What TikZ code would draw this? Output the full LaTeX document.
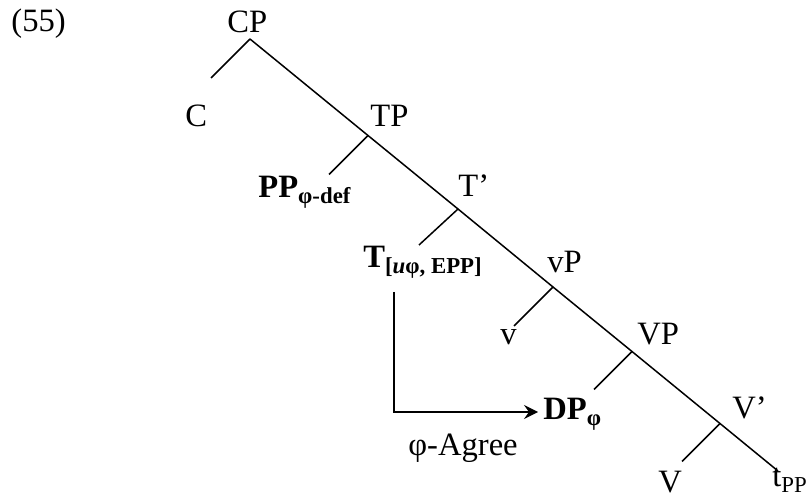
\documentclass[tikz,border=0pt]{standalone}
\usepackage{fontspec}
\setmainfont{Liberation Serif}
\usetikzlibrary{arrows.meta, calc}

\begin{document}
\begin{tikzpicture}[x=0.5pt, y=-0.5pt, >={Stealth[length=7pt, width=7pt, inset=2.5pt]}]
  % Styles
  \tikzstyle{label} = [anchor=base west, inner sep=0pt, font=\fontsize{16.3}{19}\selectfont]
  \tikzstyle{branch} = [draw, line width=0.75pt]
  \tikzstyle{agree} = [draw, ->, line width=0.75pt]

  \useasboundingbox (0,0) rectangle (809,497);

  % Example number
  \node[label] (num) at (11,32) {(55)};

  % Branch points on the spine
  \coordinate (cp) at (250,39);
  \coordinate (tp) at (368,135.5);
  \coordinate (tbar) at (458,209);
  \coordinate (vp) at (553,287);
  \coordinate (bigvp) at (632,351.5);
  \coordinate (vbar) at (720,423.5);
  \coordinate (spineend) at (778,471);

  % Ends of the left branches
  \coordinate (cend) at ($(cp)+(-39,39)$);
  \coordinate (ppend) at ($(tp)+(-39,39)$);
  \coordinate (tend) at ($(tbar)+(-39,36)$);
  \coordinate (vend) at ($(vp)+(-39,39)$);
  \coordinate (dpend) at ($(bigvp)+(-38,38)$);
  \coordinate (vheadend) at ($(vbar)+(-38,38)$);

  % Labels
  \node[label] (CP) at (227,33) {CP};
  \node[label] (C) at (185,127) {C};
  \node[label] (TP) at (370,127) {TP};
  \node[label] (PP) at (258,198) {\textbf{PP\textsubscript{φ-def}}};
  \node[label] (Tbar) at (458,197) {T’};
  \node[label] (T) at (363,268) {\textbf{T\textsubscript{[\textit{u}φ, EPP]}}};
  \node[label] (vP) at (547,273) {vP};
  \node[label] (v) at (500,345) {v};
  \node[label] (VP) at (637,345) {VP};
  \node[label] (DP) at (543,420) {\textbf{DP\textsubscript{φ}}};
  \node[label] (Vbar) at (732,418) {V’};
  \node[label] (V) at (658,492) {V};
  \node[label] (tPP) at (772,487) {t\textsubscript{PP}};
  \node[label] (agreelabel) at (408,455) {φ-Agree};

  % Tree
  \draw[branch] (cp) -- (tp) -- (tbar) -- (vp) -- (bigvp) -- (vbar) -- (spineend);
  \draw[branch] (cp) -- (cend);
  \draw[branch] (tp) -- (ppend);
  \draw[branch] (tbar) -- (tend);
  \draw[branch] (vp) -- (vend);
  \draw[branch] (bigvp) -- (dpend);
  \draw[branch] (vbar) -- (vheadend);

  % Agree arrow
  \coordinate (agreestart) at (394,292);
  \draw[agree] (agreestart) |- ($(DP.base west)+(-5,-8)$);

\end{tikzpicture}
\end{document}
